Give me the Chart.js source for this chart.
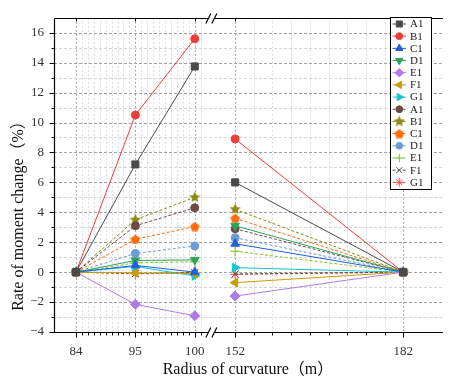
<!DOCTYPE html>
<html>
<head>
<meta charset="utf-8">
<script src="https://cdn.jsdelivr.net/npm/chart.js"></script>
<style>
  html, body { margin: 0; padding: 0; background: #fff; }
  #wrap { width: 449px; height: 380px; position: relative; }
</style>
</head>
<body>
<div id="wrap"><canvas id="c" width="449" height="380"></canvas></div>
<script>
// ---------------- DATA ----------------
const categories = [84, 95, 100, 152, 182];   // radius of curvature (m)
const yTickValues = [-4, -2, 0, 2, 4, 6, 8, 10, 12, 14, 16];
const seriesNames = ['A1', 'B1', 'C1', 'D1', 'E1', 'F1', 'G1', 'A1', 'B1', 'C1', 'D1', 'E1', 'F1', 'G1'];

// solid-line group
const A1_solid = [0, 7.2, 13.75, 6.0, 0];
const B1_solid = [0, 10.5, 15.6, 8.9, 0];
const C1_solid = [0, 0.45, 0.0, 1.9, 0];
const D1_solid = [0, 0.78, 0.82, 3.1, 0];
const E1_solid = [0, -2.15, -2.92, -1.6, 0];
const F1_solid = [0, -0.05, -0.1, -0.7, 0];
const G1_solid = [0, 0.38, -0.25, 0.3, 0];
// dashed-line group
const A1_dash = [0, 3.1, 4.3, 2.9, 0];
const B1_dash = [0, 3.5, 5.0, 4.2, 0];
const C1_dash = [0, 2.2, 3.05, 3.6, 0];
const D1_dash = [0, 1.25, 1.75, 2.3, 0];
const E1_dash = [0, 0.62, 0.7, 1.4, 0];
const F1_dash = [0, -0.1, -0.02, -0.12, 0];
const G1_dash = [0, -0.1, -0.08, -0.15, 0];

const seriesValues = [A1_solid, B1_solid, C1_solid, D1_solid, E1_solid, F1_solid, G1_solid,
                      A1_dash, B1_dash, C1_dash, D1_dash, E1_dash, F1_dash, G1_dash];

// ---------------- BROKEN AXIS TRANSFORM ----------------
const LEFT_CATS = [84, 95, 100];
const RIGHT_START = 2.68, RIGHT_SPAN = 2.83, BREAK_POS = 2.35;
function axisPos(v) {
  const i = LEFT_CATS.indexOf(v);
  if (i >= 0) return i;
  return RIGHT_START + (v - 152) / (182 - 152) * RIGHT_SPAN;
}
const majorX = categories.map(axisPos);
const minorX = [];
for (let k = 0; k <= 21; k++) minorX.push(k * 0.1);
for (let k = 0; k <= 9; k++) minorX.push(RIGHT_START + k * RIGHT_SPAN / 9);

// ---------------- STYLES ----------------
function makeStar(color, size) {
  const c = document.createElement('canvas');
  c.width = size; c.height = size;
  const g = c.getContext('2d');
  const cx = size / 2, cy = size / 2, R = size / 2, r = R * 0.45;
  g.beginPath();
  for (let k = 0; k < 10; k++) {
    const a = -Math.PI / 2 + k * Math.PI / 5;
    const rr = k % 2 === 0 ? R : r;
    g.lineTo(cx + rr * Math.cos(a), cy + rr * Math.sin(a));
  }
  g.closePath(); g.fillStyle = color; g.fill();
  return c;
}
function makePentagon(color, size) {
  const c = document.createElement('canvas');
  c.width = size; c.height = size;
  const g = c.getContext('2d');
  const cx = size / 2, cy = size / 2 + 0.5, R = size / 2;
  g.beginPath();
  for (let k = 0; k < 5; k++) {
    const a = -Math.PI / 2 + k * 2 * Math.PI / 5;
    g.lineTo(cx + R * Math.cos(a), cy + R * Math.sin(a));
  }
  g.closePath(); g.fillStyle = color; g.fill();
  return c;
}

const styles = [
  { color: '#4a4a4a', point: 'rect', radius: 5, rot: 0, dash: [] },
  { color: '#f03c3c', point: 'circle', radius: 4, rot: 0, dash: [] },
  { color: '#1f5fdc', point: 'triangle', radius: 5, rot: 0, dash: [] },
  { color: '#2ea35a', point: 'triangle', radius: 5, rot: 180, dash: [] },
  { color: '#b07ae6', point: 'rectRot', radius: 5, rot: 0, dash: [] },
  { color: '#cc9c00', point: 'triangle', radius: 5, rot: -90, dash: [] },
  { color: '#14c4d2', point: 'triangle', radius: 5, rot: 90, dash: [] },
  { color: '#6e4a46', point: 'circle', radius: 4, rot: 0, dash: [3, 2] },
  { color: '#8c8a12', point: makeStar('#8c8a12', 12), radius: 5, rot: 0, dash: [3, 2] },
  { color: '#ff6a0a', point: makePentagon('#ff6a0a', 10), radius: 5, rot: 0, dash: [3, 2] },
  { color: '#6a9ed6', point: 'circle', radius: 4, rot: 0, dash: [3, 2] },
  { color: '#84c42a', point: 'cross', radius: 5, rot: 0, dash: [3, 2] },
  { color: '#505050', point: 'crossRot', radius: 5, rot: 0, dash: [3, 2] },
  { color: '#ff4c4c', point: 'star', radius: 5, rot: 0, dash: [3, 2] }
];

const datasets = seriesValues.map((vals, s) => {
  const pts = [];
  categories.forEach((c, i) => {
    if (i === 3) pts.push({ x: BREAK_POS, y: null });
    pts.push({ x: axisPos(c), y: vals[i] });
  });
  const st = styles[s];
  return {
    label: seriesNames[s],
    data: pts,
    borderColor: st.color,
    backgroundColor: st.color,
    borderWidth: 1,
    borderDash: st.dash,
    pointStyle: st.point,
    pointRadius: st.radius,
    pointRotation: st.rot,
    pointBorderWidth: 1,
    pointBorderColor: st.color,
    pointBackgroundColor: st.color,
    spanGaps: false,
    tension: 0
  };
});

const SERIF = "'Liberation Serif', 'Times New Roman', 'Noto Sans CJK SC', serif";

// ---------------- FRAME / GRID / LEGEND PLUGIN ----------------
const framePlugin = {
  id: 'frame',
  beforeDatasetsDraw(chart) {
    const { ctx, chartArea: a, scales: { x, y } } = chart;
    ctx.save();
    ctx.lineWidth = 1;
    // vertical grid
    minorX.forEach(v => {
      const px = Math.round(x.getPixelForValue(v)) + 0.5;
      const isMajor = majorX.some(m => Math.abs(m - v) < 1e-6);
      ctx.strokeStyle = isMajor ? '#a8a8a8' : '#dcdcdc';
      ctx.setLineDash([2, 2]);
      ctx.beginPath(); ctx.moveTo(px, a.top); ctx.lineTo(px, a.bottom); ctx.stroke();
    });
    // horizontal grid
    for (let v = -3; v <= 16; v++) {
      const py = Math.round(y.getPixelForValue(v)) + 0.5;
      ctx.strokeStyle = v % 2 === 0 ? '#a0a0a0' : '#d4d4d4';
      ctx.setLineDash([3, 2]);
      ctx.beginPath(); ctx.moveTo(a.left, py); ctx.lineTo(a.right, py); ctx.stroke();
    }
    ctx.restore();
  },
  afterDatasetsDraw(chart) {
    const { ctx, chartArea: a, scales: { x, y } } = chart;
    ctx.save();
    ctx.setLineDash([]);
    ctx.strokeStyle = '#000';
    ctx.lineWidth = 1.2;
    const L = Math.round(a.left) + 0.5, B = Math.round(a.bottom) + 0.5, T = Math.round(a.top) + 0.5;
    ctx.beginPath();
    ctx.moveTo(L, T); ctx.lineTo(L, B); ctx.lineTo(a.right, B);
    ctx.moveTo(L, T); ctx.lineTo(a.right, T);
    ctx.stroke();
    // y ticks
    ctx.lineWidth = 1;
    for (let v = -4; v <= 16; v++) {
      const py = Math.round(y.getPixelForValue(v)) + 0.5;
      const len = v % 2 === 0 ? 5 : 3;
      ctx.beginPath(); ctx.moveTo(L - len, py); ctx.lineTo(L, py); ctx.stroke();
    }
    // x ticks
    minorX.forEach(v => {
      const px = Math.round(x.getPixelForValue(v)) + 0.5;
      const isMajor = majorX.some(m => Math.abs(m - v) < 1e-6);
      const len = isMajor ? 5 : 3;
      ctx.beginPath(); ctx.moveTo(px, B); ctx.lineTo(px, B + len); ctx.stroke();
      if (isMajor) { ctx.beginPath(); ctx.moveTo(px, T); ctx.lineTo(px, T + 3); ctx.stroke(); }
    });
    // break marks
    const bx = x.getPixelForValue(2.22);
    [T, B].forEach(yy => {
      ctx.fillStyle = '#fff';
      ctx.fillRect(bx + 1, yy - 2, 5, 4);
      ctx.strokeStyle = '#000';
      ctx.lineWidth = 1.2;
      [0, 6].forEach(dx => {
        ctx.beginPath();
        ctx.moveTo(bx + dx - 2, yy + 5);
        ctx.lineTo(bx + dx + 3, yy - 5);
        ctx.stroke();
      });
    });
    // axis titles
    ctx.fillStyle = '#111';
    ctx.font = '16px ' + SERIF;
    ctx.textAlign = 'center';
    ctx.textBaseline = 'middle';
    ctx.fillText('Radius of curvature（m）', 248, 370);
    ctx.save();
    ctx.translate(19, 212);
    ctx.rotate(-Math.PI / 2);
    ctx.fillText('Rate of moment change（%）', 0, 0);
    ctx.restore();
    // legend
    const lx = 390.5, ly = 17.5, lw = 41, lh = 172;
    ctx.fillStyle = '#fff';
    ctx.fillRect(lx, ly, lw, lh);
    ctx.strokeStyle = '#000';
    ctx.lineWidth = 1;
    ctx.strokeRect(lx, ly, lw, lh);
    ctx.font = '11px ' + SERIF;
    ctx.textAlign = 'left';
    chart.data.datasets.forEach((ds, i) => {
      const ry = 24 + i * 12.18;
      ctx.strokeStyle = ds.borderColor;
      ctx.lineWidth = 1;
      ctx.setLineDash(ds.borderDash);
      ctx.beginPath(); ctx.moveTo(392.5, ry); ctx.lineTo(406, ry); ctx.stroke();
      ctx.setLineDash([]);
      ctx.fillStyle = ds.backgroundColor;
      Chart.helpers.drawPoint(ctx, {
        pointStyle: ds.pointStyle, rotation: ds.pointRotation,
        radius: ds.pointRadius * 0.85, borderWidth: 1
      }, 399.3, ry);
      ctx.fillStyle = '#222';
      ctx.fillText(ds.label, 410, ry + 0.5);
    });
    ctx.restore();
  }
};

new Chart(document.getElementById('c'), {
  type: 'line',
  data: { datasets },
  options: {
    responsive: false,
    animation: false,
    devicePixelRatio: 1,
    layout: { padding: { top: 12, right: 0, left: 0, bottom: 0 } },
    plugins: { legend: { display: false }, tooltip: { enabled: false } },
    scales: {
      x: {
        type: 'linear',
        min: -0.37, max: 6.18,
        grid: { display: false, drawTicks: false },
        border: { display: false },
        afterFit(s) { s.height = 48; },
        afterBuildTicks(s) { s.ticks = majorX.map(v => ({ value: v })); },
        ticks: {
          padding: 12,
          color: '#333',
          font: { family: SERIF, size: 13 },
          maxRotation: 0,
          autoSkip: false,
          callback(v) {
            const i = majorX.findIndex(m => Math.abs(m - v) < 1e-6);
            return i >= 0 ? String(categories[i]) : '';
          }
        }
      },
      y: {
        min: -4, max: 17,
        grid: { display: false, drawTicks: false },
        border: { display: false },
        afterFit(s) { s.width = 54; },
        afterBuildTicks(s) { s.ticks = yTickValues.map(v => ({ value: v })); },
        ticks: {
          padding: 10,
          color: '#333',
          font: { family: SERIF, size: 13 },
          callback(v) { return String(v).replace('-', '−'); }
        }
      }
    }
  },
  plugins: [framePlugin]
});
</script>
</body>
</html>
